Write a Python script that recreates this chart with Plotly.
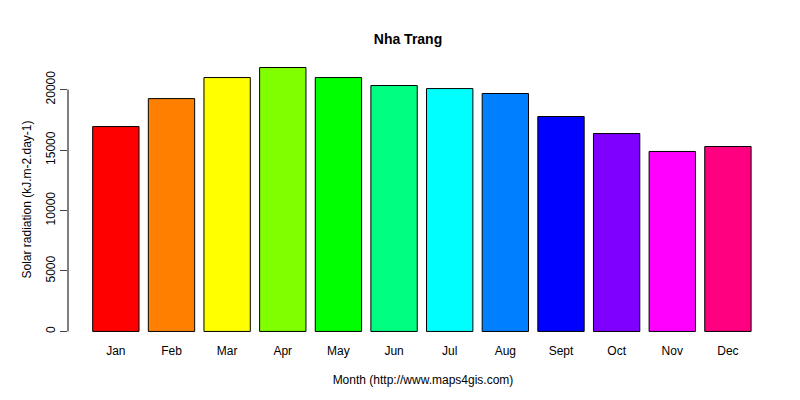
import plotly.graph_objects as go

months = ["Jan", "Feb", "Mar", "Apr", "May", "Jun", "Jul", "Aug", "Sept", "Oct", "Nov", "Dec"]
radiation = [16940, 19250, 20990, 21820, 20990, 20330, 20080, 19670, 17770, 16360, 14880, 15290]
colors = ["#FF0000", "#FF8000", "#FFFF00", "#80FF00", "#00FF00", "#00FF80",
          "#00FFFF", "#0080FF", "#0000FF", "#8000FF", "#FF00FF", "#FF0080"]
yticks = [0, 5000, 10000, 15000, 20000]
yticklabels = ["0", "5000", "10000", "15000", "20000"]

fig = go.Figure(go.Bar(x=months, y=radiation, marker=dict(color=colors, line=dict(color="black", width=1))))

fig.update_layout(
    width=800, height=400,
    margin=dict(l=60, r=30, t=49, b=66),
    plot_bgcolor="white", paper_bgcolor="white",
    font=dict(family="Liberation Sans, Arial", size=12, color="black"),
    title=dict(text="<b>Nha Trang</b>", x=0.5, y=0.922, xanchor="center", yanchor="middle", font=dict(size=14)),
    bargap=0.167,
    showlegend=False,
    xaxis=dict(range=[-0.86, 11.9], showline=False, showgrid=False, ticks="", automargin=False,
               title=dict(text="Month (http://www.maps4gis.com)", standoff=18, font=dict(size=12))),
    yaxis=dict(range=[-873, 22690], showgrid=False, zeroline=False, showline=False, automargin=False,
               ticks="outside", ticklen=7, tickvals=yticks, ticktext=yticklabels, tickangle=-90,
               title=dict(text="Solar radiation (kJ.m-2.day-1)", standoff=10, font=dict(size=12))),
    shapes=[dict(type="line", xref="paper", x0=0, x1=0, yref="y", y0=0, y1=20000,
                 line=dict(color="black", width=1))],
)

fig.write_html("out.html")
